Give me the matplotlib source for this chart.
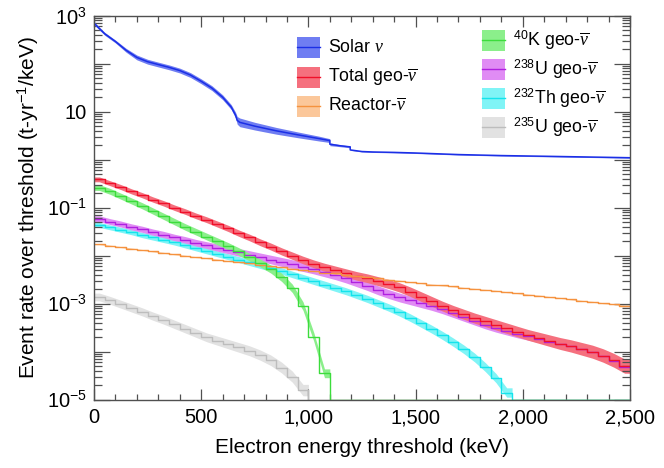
import numpy as np
import matplotlib
matplotlib.use('Agg')
import matplotlib.pyplot as plt
from matplotlib.patches import Rectangle
from matplotlib.lines import Line2D
from matplotlib.ticker import FixedLocator, FuncFormatter, MultipleLocator, NullFormatter

plt.rcParams['font.family'] = ['Liberation Sans', 'DejaVu Sans']
plt.rcParams['mathtext.fontset'] = 'custom'
plt.rcParams['mathtext.rm'] = 'Liberation Sans'
plt.rcParams['mathtext.it'] = 'Liberation Serif:italic'
plt.rcParams['mathtext.bf'] = 'Liberation Sans:bold'

# ---------------- data ----------------
bin_low_edges_kev = list(range(0, 2500, 50))   # 50 keV histogram bins

# log10 of event rate over threshold, one value per 50 keV bin; None = empty bin
total_geo_log10 = [-0.41, -0.49, -0.57, -0.66, -0.74, -0.83, -0.91, -1.00, -1.08, -1.17,
                   -1.25, -1.34, -1.43, -1.53, -1.62, -1.72, -1.81, -1.91, -2.00, -2.09,
                   -2.17, -2.24, -2.30, -2.36, -2.42, -2.47, -2.53, -2.59, -2.66, -2.75,
                   -2.85, -2.95, -3.05, -3.14, -3.22, -3.30, -3.37, -3.44, -3.51, -3.58,
                   -3.65, -3.71, -3.77, -3.83, -3.88, -3.94, -4.00, -4.08, -4.18, -4.30]
k40_log10 = [-0.58, -0.66, -0.76, -0.86, -0.96, -1.07, -1.18, -1.29, -1.40, -1.50,
             -1.60, -1.70, -1.80, -1.91, -2.03, -2.15, -2.28, -2.45, -2.68, -3.05,
             -3.69, -4.45, None, None, None, None, None, None, None, None,
             None, None, None, None, None, None, None, None, None, None,
             None, None, None, None, None, None, None, None, None, None]
u238_log10 = [-1.23, -1.29, -1.34, -1.40, -1.45, -1.51, -1.56, -1.62, -1.67, -1.73,
              -1.78, -1.83, -1.88, -1.93, -1.98, -2.03, -2.08, -2.13, -2.18, -2.23,
              -2.28, -2.34, -2.40, -2.47, -2.55, -2.63, -2.72, -2.80, -2.87, -2.93,
              -2.99, -3.05, -3.12, -3.20, -3.28, -3.36, -3.44, -3.51, -3.57, -3.63,
              -3.68, -3.73, -3.79, -3.84, -3.89, -3.95, -4.01, -4.09, -4.19, -4.31]
th232_log10 = [-1.36, -1.41, -1.46, -1.51, -1.57, -1.62, -1.67, -1.72, -1.78, -1.84,
               -1.90, -1.96, -2.02, -2.08, -2.14, -2.20, -2.26, -2.32, -2.39, -2.46,
               -2.53, -2.60, -2.67, -2.74, -2.82, -2.90, -2.99, -3.08, -3.18, -3.29,
               -3.41, -3.53, -3.66, -3.80, -3.95, -4.12, -4.32, -4.55, -4.85, None,
               None, None, None, None, None, None, None, None, None, None]
u235_log10 = [-2.86, -2.93, -3.01, -3.09, -3.17, -3.26, -3.34, -3.43, -3.52, -3.61,
              -3.70, -3.77, -3.84, -3.91, -3.98, -4.07, -4.18, -4.33, -4.52, -4.80,
              None, None, None, None, None, None, None, None, None, None,
              None, None, None, None, None, None, None, None, None, None,
              None, None, None, None, None, None, None, None, None, None]
reactor_log10 = [-1.76, -1.79, -1.82, -1.85, -1.88, -1.91, -1.94, -1.97, -2.00, -2.03,
                 -2.05, -2.08, -2.11, -2.13, -2.16, -2.19, -2.22, -2.24, -2.27, -2.30,
                 -2.32, -2.35, -2.37, -2.40, -2.42, -2.45, -2.47, -2.50, -2.52, -2.55,
                 -2.57, -2.60, -2.62, -2.64, -2.67, -2.69, -2.71, -2.73, -2.76, -2.78,
                 -2.81, -2.83, -2.86, -2.88, -2.91, -2.94, -2.96, -2.99, -3.01, -3.04]

# solar neutrino curve (energy, rate) incl. the steps at 1100 and 1195 keV
solar_energy_kev = [0, 25, 50, 100, 150, 200, 250, 300, 350, 400, 450, 500, 550, 600,
                    640, 660, 668, 680, 750, 850, 950, 1050, 1100, 1100, 1150, 1195,
                    1195, 1250, 1300, 1400, 1500, 1700, 1900, 2100, 2300, 2500]
solar_rate = [700, 540, 420, 290, 190, 135, 110, 96, 84, 72, 58, 43, 31, 20,
              12.5, 8.5, 6.6, 6.0, 5.0, 4.0, 3.3, 2.75, 2.5, 2.1, 1.95, 1.85,
              1.6, 1.48, 1.45, 1.42, 1.38, 1.28, 1.22, 1.18, 1.14, 1.10]
solar_band_dex = [0.03, 0.03, 0.03, 0.03, 0.04, 0.05, 0.05, 0.05, 0.05, 0.05, 0.05, 0.05, 0.05, 0.05,
                  0.05, 0.06, 0.08, 0.09, 0.08, 0.07, 0.06, 0.05, 0.04, 0.03, 0.02, 0.02,
                  0.01, 0.01, 0.01, 0.01, 0.01, 0.01, 0.01, 0.01, 0.01, 0.01]

# uncertainty band half-widths (decades) at coarse energies
band_energy_kev = [0, 500, 1000, 1500, 2000, 2500]
total_band_dex = [0.05, 0.06, 0.08, 0.10, 0.11, 0.15]
k40_band_dex = [0.06, 0.07, 0.09, 0.10, 0.10, 0.10]
u238_band_dex = [0.06, 0.07, 0.10, 0.09, 0.08, 0.08]
th232_band_dex = [0.05, 0.06, 0.07, 0.08, 0.10, 0.10]
u235_band_dex = [0.08, 0.09, 0.12, 0.12, 0.12, 0.12]
reactor_band_dex = [0.01, 0.01, 0.01, 0.01, 0.01, 0.01]

legend_left = ['Solar $\\nu$', 'Total geo-$\\overline{\\nu}$', 'Reactor-$\\overline{\\nu}$']
legend_right = ['$^{40}$K geo-$\\overline{\\nu}$', '$^{238}$U geo-$\\overline{\\nu}$',
                '$^{232}$Th geo-$\\overline{\\nu}$', '$^{235}$U geo-$\\overline{\\nu}$']

# ---------------- style ----------------
C_SOLAR = ('#1b2fe6', '#6f7df2')
C_TOTAL = ('#f0102a', '#f5707e')
C_REACT = ('#f5923e', '#fbc79a')
C_K40 = ('#3cdc3c', '#8bef8b')
C_U238 = ('#b020e0', '#e08cf4')
C_TH232 = ('#14e4ec', '#80f4f6')
C_U235 = ('#bdbdbd', '#e2e2e2')

YMIN, YMAX = 1e-5, 1e3
LW = 1.0

fig = plt.figure(figsize=(6.64, 4.68), dpi=100)
ax = fig.add_axes([94 / 664, 1 - 399.7 / 468, 536 / 664, (399.7 - 15.7) / 468])
ax.set_yscale('log')
ax.set_xlim(0, 2500)
ax.set_ylim(YMIN, YMAX)

edges = np.array(bin_low_edges_kev, dtype=float)
width = 50.0


def series(vals):
    return np.array([np.nan if v is None else v for v in vals], dtype=float)


def draw_band(lg, band, color, z):
    ok = ~np.isnan(lg)
    n = int(ok.sum())
    xc = edges[:n] + width / 2
    x = np.concatenate([[0.0], xc, [edges[n - 1] + width]])
    y = np.concatenate([[lg[0]], lg[:n], [lg[n - 1]]])
    w = np.interp(x, band_energy_kev, band)
    ax.fill_between(x, 10 ** (y - w), 10 ** (y + w), color=color, lw=0, zorder=z)


def draw_steps(lg, color, z):
    v = 10 ** np.nan_to_num(lg, nan=-99.0)
    v = np.maximum(v, YMIN)
    x = np.concatenate([edges, [2500.0]])
    y = np.concatenate([v, [v[-1]]])
    ax.step(x, y, where='post', color=color, lw=LW, zorder=z, clip_on=True)


series_list = [
    (series(u235_log10), u235_band_dex, C_U235),
    (series(th232_log10), th232_band_dex, C_TH232),
    (series(u238_log10), u238_band_dex, C_U238),
    (series(total_geo_log10), total_band_dex, C_TOTAL),
    (series(k40_log10), k40_band_dex, C_K40),
    (series(reactor_log10), reactor_band_dex, C_REACT),
]
for i, (lg, band, col) in enumerate(series_list):
    draw_band(lg, band, col[1], 1 + i * 0.1)

# solar band + line
se = np.array(solar_energy_kev, float)
sl = np.log10(np.array(solar_rate, float))
sb = np.array(solar_band_dex)
ax.fill_between(se, 10 ** (sl - sb), 10 ** (sl + sb), color=C_SOLAR[1], lw=0, zorder=2)

for i, (lg, band, col) in enumerate([series_list[0], series_list[1], series_list[2],
                                      series_list[3], series_list[5], series_list[4]]):
    draw_steps(lg, col[0], 3 + i * 0.1)
ax.plot(se, 10 ** sl, color=C_SOLAR[0], lw=LW + 0.1, zorder=4)

# ---------------- axes cosmetics ----------------
spine_c = '#505050'
for s in ax.spines.values():
    s.set_color(spine_c)
    s.set_linewidth(1.0)
    s.set_zorder(5)

ax.xaxis.set_major_locator(MultipleLocator(500))
ax.xaxis.set_minor_locator(MultipleLocator(100))
ax.xaxis.set_major_formatter(FuncFormatter(lambda v, p: f'{int(round(v)):,}'))

decades = [10.0 ** k for k in range(-5, 4)]
ax.yaxis.set_major_locator(FixedLocator(decades))
minors = [m * 10.0 ** k for k in range(-5, 3) for m in range(2, 10)]
ax.yaxis.set_minor_locator(FixedLocator(minors))
ax.yaxis.set_minor_formatter(NullFormatter())


def yfmt(v, p):
    k = int(round(np.log10(v)))
    if k % 2 == 0:
        return ''
    if k == 1:
        return '10'
    return '$10^{%d}$' % k


ax.yaxis.set_major_formatter(FuncFormatter(yfmt))

ax.tick_params(which='both', direction='in', top=True, right=True, color=spine_c,
               width=0.9, labelsize=14.5, labelcolor='black')
ax.tick_params(axis='x', which='major', length=7.7, pad=6)
ax.tick_params(axis='x', which='minor', length=4.1)
ax.tick_params(axis='y', which='major', length=11.5, pad=5)
ax.tick_params(axis='y', which='minor', length=5.8)

ax.set_xlabel('Electron energy threshold (keV)', fontsize=15, labelpad=8)
ax.set_ylabel('Event rate over threshold (t-yr$^{-1}$/keV)', fontsize=15, labelpad=4)


# ---------------- legend (drawn by hand, figure pixel coords) ----------------
def px(x, y):
    return x / 664, 1 - y / 468


def legend_entry(xh, yc, text, col):
    x0, y0 = px(xh, yc + 10.5)
    fig.patches.append(Rectangle((x0, y0), 23 / 664, 21 / 468, transform=fig.transFigure,
                                 facecolor=col[1], edgecolor='none', figure=fig))
    lx0, ly = px(xh, yc)
    lx1, _ = px(xh + 23, yc)
    fig.lines.append(Line2D([lx0, lx1], [ly, ly], transform=fig.transFigure,
                            color=col[0], lw=LW, figure=fig))
    tx, ty = px(xh + 31, yc)
    fig.text(tx, ty, text, fontsize=12.8, va='center', ha='left')


for t, yc, col in zip(legend_left, [47, 77, 106], [C_SOLAR, C_TOTAL, C_REACT]):
    legend_entry(297, yc, t, col)
for t, yc, col in zip(legend_right, [40, 69, 98, 127], [C_K40, C_U238, C_TH232, C_U235]):
    legend_entry(482, yc, t, col)

fig.savefig('out.png', dpi=100)
